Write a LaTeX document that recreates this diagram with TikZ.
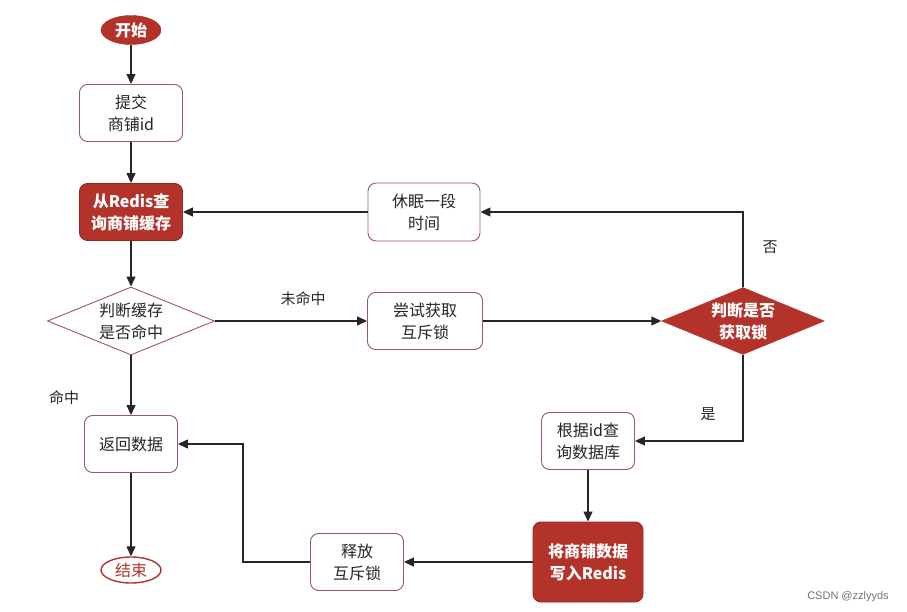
\documentclass[tikz,border=0pt]{standalone}
\usepackage{fontspec}
\setmainfont{Noto Sans CJK SC}
\newfontfamily\latinfont{Liberation Sans}
\usetikzlibrary{shapes.geometric,arrows.meta}
\definecolor{dred}{HTML}{B3332B}
\definecolor{bord}{HTML}{A0565A}
\begin{document}
\begin{tikzpicture}[x=1pt,y=-1pt,
  every node/.style={font=\fontsize{16}{22}\selectfont, align=center, text=black!85},
  wbox/.style={draw=bord, line width=0.9pt, rounded corners=8pt, fill=white, inner sep=0pt},
  rbox/.style={draw=dred!80!black, line width=0.9pt, rounded corners=8pt, fill=dred, inner sep=0pt, text=white, font=\fontsize{16}{22}\selectfont\bfseries},
  wdia/.style={diamond, draw=bord, line width=0.9pt, fill=white, inner sep=0pt, aspect=2.4},
  conn/.style={line width=1.2pt, draw=black!85, -{Triangle[length=10pt,width=9pt]}},
  lbl/.style={font=\fontsize{15}{18}\selectfont}]
\useasboundingbox (0,0) rectangle (907,612);
% nodes
\node[ellipse, draw=dred!80!black, fill=dred, text=white, minimum width=60pt, minimum height=29pt, inner sep=0pt, font=\fontsize{16}{18}\selectfont\bfseries] (start) at (131,30) {开始};
\node[wbox, minimum width=103pt, minimum height=57pt] (submit) at (131,113) {提交\\商铺id};
\node[rbox, minimum width=103pt, minimum height=57pt] (query) at (131,212) {从Redis查\\询商铺缓存};
\node[wdia, minimum width=167pt, minimum height=68pt] (hit) at (131,321) {判断缓存\\是否命中};
\node[wbox, minimum width=93pt, minimum height=57pt] (ret) at (131,444) {返回数据};
\node[ellipse, draw=dred, line width=1.4pt, fill=white, text=dred, minimum width=60pt, minimum height=26pt, inner sep=0pt] (end) at (131,570) {结束};
\node[wbox, minimum width=112pt, minimum height=58pt] (sleep) at (424,212) {休眠一段\\时间};
\node[wbox, minimum width=115pt, minimum height=57pt] (try) at (425,321) {尝试获取\\互斥锁};
\node[diamond, draw=dred, fill=dred, inner sep=0pt, aspect=2.4, minimum width=163pt, minimum height=67pt, text=white, font=\fontsize{16}{22}\selectfont\bfseries] (lock) at (743,321) {判断是否\\获取锁};
\node[wbox, minimum width=93pt, minimum height=57pt] (db) at (588,441) {根据id查\\询数据库};
\node[rbox, minimum width=110pt, minimum height=80pt] (write) at (588,562) {将商铺数据\\写入Redis};
\node[wbox, minimum width=93pt, minimum height=57pt] (rel) at (357,562) {释放\\互斥锁};
% connectors
\draw[conn] (start) -- (submit);
\draw[conn] (submit) -- (query);
\draw[conn] (query) -- (hit);
\draw[conn] (hit) -- (ret);
\draw[conn] (ret) -- (end);
\draw[conn] (hit.east) -- (try.west);
\draw[conn] (try.east) -- (lock.west);
\draw[conn] (lock.north) |- (sleep.east);
\draw[conn] (sleep.west) -- (query.east);
\draw[conn] (lock.south) |- (db.east);
\draw[conn] (db) -- (write);
\draw[conn] (write.west) -- (rel.east);
\coordinate (bend) at (243,562);
\draw[conn] (rel.west) -- (bend) |- (ret.east);
% labels
\node[lbl] (l1) at (303,299) {未命中};
\node[lbl] (l2) at (64,398) {命中};
\node[lbl] (l3) at (770,247) {否};
\node[lbl] (l4) at (708,414) {是};
\node[font=\latinfont\fontsize{11}{13}\selectfont, text=black!55] (wm) at (848,597) {CSDN @zzlyyds};
\end{tikzpicture}
\end{document}
